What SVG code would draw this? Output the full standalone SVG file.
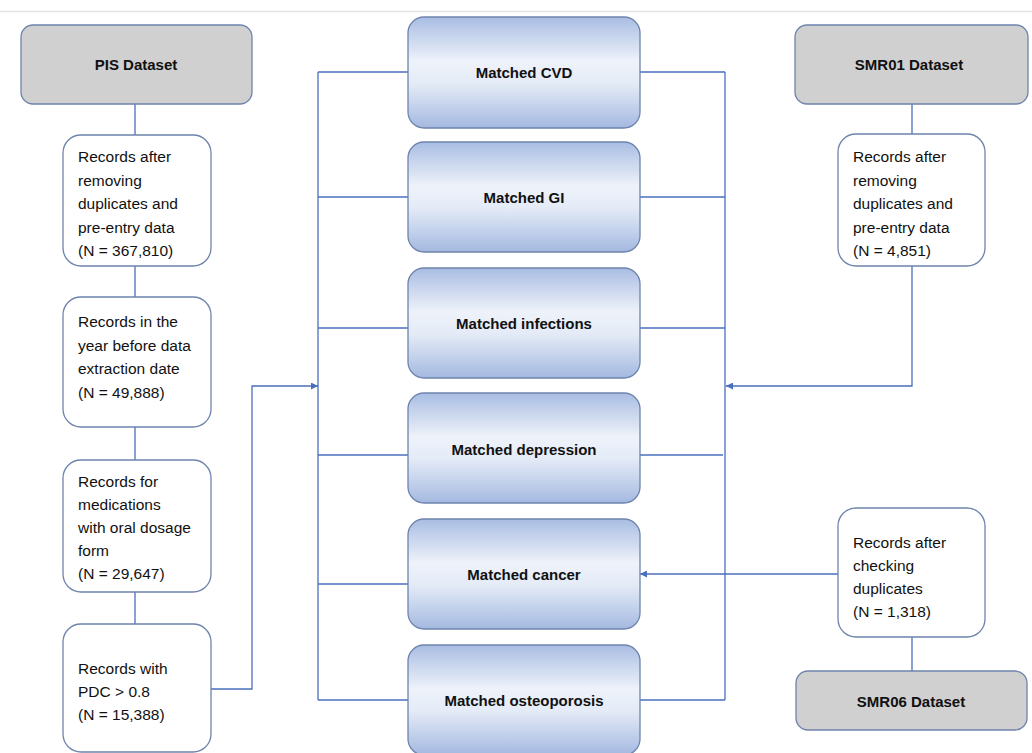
<svg xmlns="http://www.w3.org/2000/svg" width="1032" height="753" viewBox="0 0 1032 753">
<defs>
<linearGradient id="mg" x1="0" y1="0" x2="0" y2="1">
<stop offset="0" stop-color="#a9bde2"/>
<stop offset="0.4" stop-color="#eef2fa"/>
<stop offset="0.6" stop-color="#e4ebf7"/>
<stop offset="1" stop-color="#a4b9e0"/>
</linearGradient>
<marker id="ah" viewBox="0 0 10 10" refX="10" refY="5" markerWidth="7" markerHeight="7" markerUnits="userSpaceOnUse" orient="auto">
<path d="M0,0 L10,5 L0,10 z" fill="#4a6fbd"/>
</marker>
<style>
.ds{fill:#d0d0d0;stroke:#6e84ad;stroke-width:1.3}
.rec{fill:#ffffff;stroke:#6e84ad;stroke-width:1.3}
.mt{fill:url(#mg);stroke:#6e84ad;stroke-width:1.3}
.b{font-family:"Liberation Sans",Arial,sans-serif;font-weight:bold;font-size:15px;fill:#111;text-anchor:middle}
.t{font-family:"Liberation Sans",Arial,sans-serif;font-size:15.5px;fill:#111}
.c{fill:none;stroke:#4a6fbd;stroke-width:1.3}
</style>
</defs>
<rect width="1032" height="753" fill="#ffffff"/>
<line x1="0" y1="11.5" x2="1032" y2="11.5" stroke="#e2e2e2" stroke-width="1.5"/>

<g id="connectors">
<path class="c" d="M135,104 V135"/>
<path class="c" d="M135,266 V297"/>
<path class="c" d="M135,427 V460"/>
<path class="c" d="M135,592 V624"/>
<path class="c" d="M211,689 H252 V386 H318" marker-end="url(#ah)"/>
<path class="c" d="M318,72 V700"/>
<path class="c" d="M318,72 H408"/>
<path class="c" d="M318,197 H408"/>
<path class="c" d="M318,328 H408"/>
<path class="c" d="M318,455 H408"/>
<path class="c" d="M318,584 H408"/>
<path class="c" d="M318,700 H408"/>
<path class="c" d="M725,72 V700"/>
<path class="c" d="M640,72 H725"/>
<path class="c" d="M640,197 H725"/>
<path class="c" d="M640,328 H725"/>
<path class="c" d="M640,455 H723"/>
<path class="c" d="M640,700 H725"/>
<path class="c" d="M912,104 V134"/>
<path class="c" d="M912,266 V386 H726" marker-end="url(#ah)"/>
<path class="c" d="M838,574 H640" marker-end="url(#ah)"/>
<path class="c" d="M912,637 V671"/>
</g>

<g id="pis-dataset">
<rect class="ds" x="21" y="25" width="231" height="79" rx="12"/>
<text class="b" x="136" y="70">PIS Dataset</text>
</g>
<g id="pis-rec1">
<rect class="rec" x="63" y="135" width="148" height="131" rx="18"/>
<text class="t" x="78"><tspan x="78" y="162">Records after</tspan><tspan x="78" y="185.5">removing</tspan><tspan x="78" y="209">duplicates and</tspan><tspan x="78" y="232.5">pre-entry data</tspan><tspan x="78" y="256">(N = 367,810)</tspan></text>
</g>
<g id="pis-rec2">
<rect class="rec" x="63" y="297" width="148" height="130" rx="18"/>
<text class="t" x="78"><tspan x="78" y="327">Records in the</tspan><tspan x="78" y="350.5">year before data</tspan><tspan x="78" y="374">extraction date</tspan><tspan x="78" y="397.5">(N = 49,888)</tspan></text>
</g>
<g id="pis-rec3">
<rect class="rec" x="63" y="460" width="148" height="132" rx="18"/>
<text class="t" x="78"><tspan x="78" y="487">Records for</tspan><tspan x="78" y="510">medications</tspan><tspan x="78" y="533">with oral dosage</tspan><tspan x="78" y="556">form</tspan><tspan x="78" y="579">(N = 29,647)</tspan></text>
</g>
<g id="pis-rec4">
<rect class="rec" x="63" y="624" width="148" height="128" rx="18"/>
<text class="t" x="78"><tspan x="78" y="674">Records with</tspan><tspan x="78" y="697">PDC &gt; 0.8</tspan><tspan x="78" y="720">(N = 15,388)</tspan></text>
</g>

<g id="matched-cvd">
<rect class="mt" x="408" y="17" width="232" height="111" rx="16"/>
<text class="b" x="524" y="78">Matched CVD</text>
</g>
<g id="matched-gi">
<rect class="mt" x="408" y="142" width="232" height="110" rx="16"/>
<text class="b" x="524" y="203">Matched GI</text>
</g>
<g id="matched-infections">
<rect class="mt" x="408" y="268" width="232" height="110" rx="16"/>
<text class="b" x="524" y="329">Matched infections</text>
</g>
<g id="matched-depression">
<rect class="mt" x="408" y="393" width="232" height="110" rx="16"/>
<text class="b" x="524" y="455">Matched depression</text>
</g>
<g id="matched-cancer">
<rect class="mt" x="408" y="519" width="232" height="110" rx="16"/>
<text class="b" x="524" y="580">Matched cancer</text>
</g>
<g id="matched-osteoporosis">
<rect class="mt" x="408" y="645" width="232" height="110" rx="16"/>
<text class="b" x="524" y="706">Matched osteoporosis</text>
</g>

<g id="smr01-dataset">
<rect class="ds" x="795" y="25" width="233" height="79" rx="12"/>
<text class="b" x="909" y="70">SMR01 Dataset</text>
</g>
<g id="smr01-rec">
<rect class="rec" x="838" y="134" width="147" height="132" rx="18"/>
<text class="t" x="853"><tspan x="853" y="162">Records after</tspan><tspan x="853" y="185.5">removing</tspan><tspan x="853" y="209">duplicates and</tspan><tspan x="853" y="232.5">pre-entry data</tspan><tspan x="853" y="256">(N = 4,851)</tspan></text>
</g>
<g id="smr06-rec">
<rect class="rec" x="838" y="508" width="147" height="129" rx="18"/>
<text class="t" x="853"><tspan x="853" y="548">Records after</tspan><tspan x="853" y="571">checking</tspan><tspan x="853" y="594">duplicates</tspan><tspan x="853" y="617">(N = 1,318)</tspan></text>
</g>
<g id="smr06-dataset">
<rect class="ds" x="796" y="671" width="231" height="59" rx="12"/>
<text class="b" x="911" y="707">SMR06 Dataset</text>
</g>
</svg>
